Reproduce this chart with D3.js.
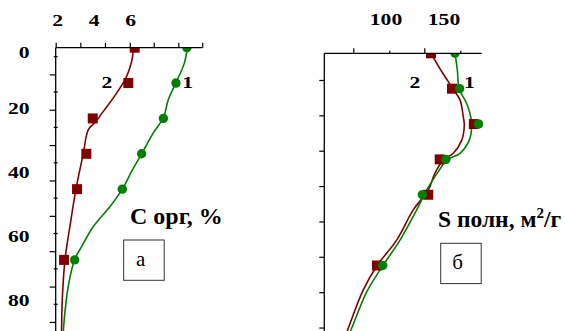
<!DOCTYPE html>
<html>
<head>
<meta charset="utf-8">
<script src="https://cdn.jsdelivr.net/npm/d3@7"></script>
<style>
  body { margin: 0; background: #fff; }
  svg { display: block; }
  text { font-family: "Liberation Serif", "Times New Roman", serif; }
</style>
</head>
<body>
<svg id="chart" width="565" height="331"></svg>
<script>
// sample depths (same for both panels)
const depths = [0, 11, 22, 33, 44, 66];

// panel a: C org, %
const corg1 = [9.08, 8.48, 7.79, 6.60, 5.54, 2.93];
const corg2 = [6.22, 5.87, 3.92, 3.57, 3.06, 2.35];
// fitted curves, [depth, value]
const corgFit1 = [[0, 9.10], [4.8, 8.94], [10.9, 8.48], [16.2, 8.06], [21.8, 7.79], [26.5, 7.24],
  [33, 6.60], [38.5, 6.05], [44, 5.54], [49.4, 4.87], [55.6, 3.95], [61.8, 3.32], [65.9, 2.93],
  [74.2, 2.58], [85.1, 2.35], [92, 2.28]];
const corgFit2 = [[0, 6.15], [4.3, 6.05], [9.4, 5.74], [15.6, 5.05], [19.8, 4.50], [22.9, 4.10],
  [25.5, 3.68], [33, 3.40], [44, 3.00], [55.6, 2.67], [65.9, 2.40], [78.4, 2.25], [85.2, 2.22], [92, 2.20]];

// panel b: S total, m2/g
const stot1 = [159.5, 163.5, 179.8, 151.6, 131.3, 97.2];
const stot2 = [138.8, 156.9, 175.7, 146.3, 136.4, 92.2];
const stotFit1 = [[0, 159.5], [5.2, 161.5], [11.2, 163.2], [15.6, 169.6], [19.7, 173.0], [22.3, 173.9],
  [27, 171.8], [31.1, 163.8], [33.2, 152.3], [36.8, 145.1], [42.5, 135.1], [48.7, 126.5],
  [58.1, 112.1], [66.1, 97.2], [74.2, 83.4], [85.5, 70.4], [92, 63]];
const stotFit2 = [[0, 138.8], [5.2, 147.2], [11.2, 158.0], [14.5, 163.8], [19.7, 166.6], [22.3, 167.5],
  [27, 165.3], [31.1, 158.0], [33.2, 149.4], [37.3, 142.2], [42.5, 136.5], [48.7, 123.5],
  [58.1, 109.2], [66.1, 92.2], [73.6, 80.4], [85.5, 67.5], [92, 61]];

// tick labels and tick marks
const depthLabels = [0, 20, 40, 60, 80];
const corgLabels = [2, 4, 6];
const stotLabels = [100, 150];
const corgTicks = [1.89, 3.24, 4.59, 5.95, 7.26, 8.61, 9.92];
const stotTicksMajor = [71.8, 133.0];
const stotTicksMinor = [102.8, 164.1];
const stotExtent = [46.8, 182.5];
const depthTicksMajor = [8.3, 19.3, 30.3, 41.3, 52.3, 63.3, 74.3, 85.3];
const depthTicksMinor = [2.8, 13.8, 24.8, 35.8, 46.8, 57.8, 68.8, 79.8];

const RED = "#800000", GREEN = "#008000";
const svg = d3.select("#chart");

const xA = d3.scaleLinear().domain([2, 6]).range([57.7, 130.7]);
const yA = d3.scaleLinear().domain([0, 80]).range([47.7, 304.9]);
const xB = d3.scaleLinear().domain([100, 150]).range([386, 444]);
const yB = d3.scaleLinear().domain([0, 80]).range([53.3, 310.5]);

// bold digits in the original are wider than Times, so stretch them a bit
function digits(sel) {
  sel.attr("font-size", 17.5).attr("font-weight", "bold")
    .attr("textLength", d => String(d.t !== undefined ? d.t : d).length * 10.8)
    .attr("lengthAdjust", "spacingAndGlyphs")
    .text(d => d.t !== undefined ? d.t : d);
}

function panel(id, x, y, fit1, fit2, v1, v2) {
  const g = svg.append("g");
  const top = y(0);
  svg.append("clipPath").attr("id", id).append("rect")
    .attr("x", 0).attr("y", top).attr("width", 565).attr("height", 331 - top);
  const plot = g.append("g").attr("clip-path", `url(#${id})`);
  const line = d3.line().x(d => x(d[1])).y(d => y(d[0])).curve(d3.curveCatmullRom.alpha(0.5));
  [[fit2, RED], [fit1, GREEN]].forEach(([f, c]) => {
    plot.append("path").datum(f).attr("d", line)
      .attr("fill", "none").attr("stroke", c).attr("stroke-width", 1.6);
  });
  plot.selectAll("rect.sq").data(depths).join("rect").attr("class", "sq")
    .attr("x", (d, i) => x(v2[i]) - 5).attr("y", d => y(d) - 5)
    .attr("width", 10).attr("height", 10).attr("fill", RED);
  plot.selectAll("circle").data(depths).join("circle")
    .attr("cx", (d, i) => x(v1[i])).attr("cy", d => y(d)).attr("r", 4.7).attr("fill", GREEN);
  return g;
}

function drawAxisLines(g, x0, x1, y0) {
  g.append("line").attr("x1", x0).attr("x2", x1).attr("y1", y0).attr("y2", y0)
    .attr("stroke", "#000").attr("stroke-width", 1.3);
  g.append("line").attr("x1", x0).attr("x2", x0).attr("y1", y0).attr("y2", 331)
    .attr("stroke", "#000").attr("stroke-width", 1.3);
}

function cleanAxis(sel) {
  sel.select(".domain").remove();
  sel.selectAll(".tick line").attr("stroke", "#000").attr("stroke-width", 1.2);
}

// ---- panel a
const gA = panel("clipA", xA, yA, corgFit1, corgFit2, corg1, corg2);
const axA = gA.append("g");
const xA0 = xA(corgTicks[0]);
drawAxisLines(axA, xA0, xA(corgTicks[corgTicks.length - 1]), yA(0));
axA.append("g").attr("transform", `translate(0,${yA(0)})`)
  .call(d3.axisTop(xA).tickValues(corgTicks).tickSize(5).tickFormat(""))
  .call(cleanAxis);
axA.append("g").attr("transform", `translate(${xA0},0)`)
  .call(d3.axisLeft(yA).tickValues(depthTicksMajor).tickSize(6).tickFormat(""))
  .call(cleanAxis);
axA.selectAll("line.minor").data(depthTicksMinor).join("line").attr("class", "minor")
  .attr("x1", xA0 - 2).attr("x2", xA0 + 2).attr("y1", d => yA(d)).attr("y2", d => yA(d))
  .attr("stroke", "#000").attr("stroke-width", 1.2);

axA.selectAll("text.xl").data(corgLabels).join("text").attr("class", "xl")
  .attr("x", d => xA(d) - 5.4).attr("y", 26).call(digits);
axA.selectAll("text.yl").data(depthLabels).join("text").attr("class", "yl")
  .attr("x", d => 29.5 - String(d).length * 10.8)
  .attr("y", d => Math.max(yA(d) + 1.5, yA(0) + 10.5)).call(digits);

// ---- panel b
const gB = panel("clipB", xB, yB, stotFit1, stotFit2, stot1, stot2);
const axB = gB.append("g");
const xB0 = xB(stotExtent[0]);
drawAxisLines(axB, xB0, xB(stotExtent[1]), yB(0));
axB.append("g").attr("transform", `translate(0,${yB(0)})`)
  .call(d3.axisTop(xB).tickValues(stotTicksMajor).tickSize(5).tickFormat(""))
  .call(cleanAxis);
axB.append("g").attr("transform", `translate(0,${yB(0)})`)
  .call(d3.axisTop(xB).tickValues(stotTicksMinor).tickSize(2.5).tickFormat(""))
  .call(cleanAxis);
axB.append("g").attr("transform", `translate(${xB0},0)`)
  .call(d3.axisLeft(yB).tickValues(depthTicksMajor).tickSize(5).tickFormat(""))
  .call(cleanAxis);
axB.selectAll("text.xl").data(stotLabels).join("text").attr("class", "xl")
  .attr("x", d => xB(d) - 16.2).attr("y", 25).call(digits);

// ---- series labels
const seriesLabels = [
  { t: "2", x: xA(corg2[1]) - 21.5 }, { t: "1", x: xA(corg1[1]) + 11.7 },
  { t: "2", x: xB(stot2[1]) - 37 }, { t: "1", x: xB(stot1[1]) + 9.8 }
];
svg.selectAll("text.sl").data(seriesLabels).join("text").attr("class", "sl")
  .attr("x", d => d.x - 5.4).attr("y", yA(11) + 4.5).call(digits);

// ---- titles
svg.append("text").attr("x", 130).attr("y", 224)
  .attr("font-size", 24).attr("font-weight", "bold").text("C орг, %");
const tB = svg.append("text").attr("x", 438).attr("y", 227)
  .attr("font-size", 23.5).attr("font-weight", "bold");
tB.append("tspan").text("S полн, м");
tB.append("tspan").attr("font-size", 15).attr("dy", -9).text("2");
tB.append("tspan").attr("dy", 9).text("/г");

// ---- letter boxes
const boxes = [{ t: "а", x: 123.7, y: 240 }, { t: "б", x: 440.7, y: 243.3 }];
const bx = svg.selectAll("g.box").data(boxes).join("g").attr("class", "box")
  .attr("transform", d => `translate(${d.x},${d.y})`);
bx.append("rect").attr("width", 40.5).attr("height", 40.3)
  .attr("fill", "none").attr("stroke", "#333").attr("stroke-width", 1);
bx.append("text").attr("x", 17).attr("y", 26).attr("text-anchor", "middle")
  .attr("font-size", 21).text(d => d.t);
</script>
</body>
</html>
